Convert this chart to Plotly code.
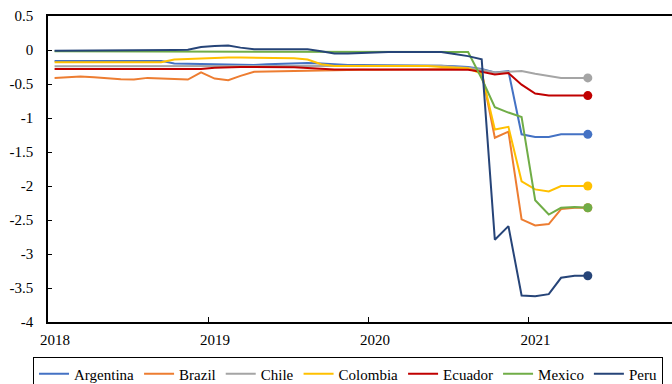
import plotly.graph_objects as go

# Monthly observations, Jan 2018 – May 2021 (plotted mid-month)
months = [f"{2018 + (m // 12)}-{(m % 12) + 1:02d}-16" for m in range(41)]

argentina = [-0.16, -0.16, -0.16, -0.16, -0.16, -0.16, -0.16, -0.15, -0.16, -0.20,
             -0.205, -0.21, -0.215, -0.22, -0.225, -0.22, -0.21, -0.20, -0.19, -0.19,
             -0.20, -0.215, -0.22, -0.22, -0.22, -0.22, -0.22, -0.22, -0.22, -0.23,
             -0.24, -0.25, -0.28, -0.33, -0.31, -1.24, -1.28, -1.28, -1.24, -1.24, -1.24]
brazil = [-0.41, -0.40, -0.39, -0.40, -0.42, -0.43, -0.435, -0.41, -0.42, -0.43,
          -0.435, -0.33, -0.42, -0.445, -0.38, -0.32, -0.315, -0.31, -0.305, -0.30,
          -0.295, -0.29, -0.29, -0.29, -0.29, -0.29, -0.29, -0.29, -0.29, -0.29,
          -0.28, -0.275, -0.32, -1.29, -1.20, -2.49, -2.58, -2.56, -2.34, -2.32, -2.32]
chile = [-0.24, -0.24, -0.24, -0.24, -0.24, -0.24, -0.24, -0.24, -0.24, -0.24,
         -0.24, -0.24, -0.24, -0.24, -0.24, -0.24, -0.24, -0.24, -0.24, -0.24,
         -0.23, -0.23, -0.23, -0.23, -0.23, -0.23, -0.23, -0.23, -0.23, -0.23,
         -0.25, -0.26, -0.29, -0.33, -0.32, -0.31, -0.35, -0.38, -0.41, -0.41, -0.41]
colombia = [-0.18, -0.18, -0.18, -0.18, -0.18, -0.18, -0.18, -0.19, -0.18, -0.14,
            -0.13, -0.12, -0.11, -0.11, -0.11, -0.11, -0.11, -0.11, -0.12, -0.14,
            -0.21, -0.235, -0.24, -0.235, -0.235, -0.235, -0.235, -0.235, -0.235, -0.25,
            -0.26, -0.27, -0.35, -1.17, -1.13, -1.93, -2.05, -2.08, -2.00, -2.00, -2.00]
ecuador = [-0.28, -0.28, -0.28, -0.28, -0.28, -0.28, -0.28, -0.28, -0.28, -0.28,
           -0.28, -0.28, -0.26, -0.25, -0.25, -0.25, -0.25, -0.255, -0.255, -0.265,
           -0.28, -0.285, -0.285, -0.285, -0.285, -0.285, -0.285, -0.285, -0.285, -0.285,
           -0.285, -0.29, -0.32, -0.36, -0.34, -0.51, -0.64, -0.67, -0.67, -0.67, -0.67]
mexico = [-0.02, -0.02, -0.02, -0.02, -0.02, -0.02, -0.02, -0.02, -0.02, -0.02,
          -0.02, -0.02, -0.02, -0.02, -0.02, -0.02, -0.02, -0.02, -0.02, -0.02,
          -0.02, -0.02, -0.02, -0.02, -0.02, -0.02, -0.02, -0.02, -0.02, -0.025,
          -0.03, -0.03, -0.42, -0.84, -0.92, -0.985, -2.21, -2.42, -2.32, -2.31, -2.32]
peru = [-0.01, -0.01, -0.01, 0.0, 0.0, 0.0, 0.0, 0.0, 0.0, 0.0,
        0.005, 0.045, 0.06, 0.065, 0.035, 0.01, 0.01, 0.01, 0.01, 0.01,
        -0.02, -0.05, -0.05, -0.04, -0.04, -0.03, -0.03, -0.03, -0.03, -0.03,
        -0.06, -0.09, -0.137, -2.79, -2.59, -3.61, -3.62, -3.59, -3.35, -3.32, -3.32]

names = ["Argentina", "Brazil", "Chile", "Colombia", "Ecuador", "Mexico", "Peru"]
colors = ["#4472C4", "#ED7D31", "#A5A5A5", "#FFC000", "#C00000", "#70AD47", "#264478"]
series = [argentina, brazil, chile, colombia, ecuador, mexico, peru]

y_tickvals = [0.5, 0, -0.5, -1, -1.5, -2, -2.5, -3, -3.5, -4]
y_ticktext = ["0.5", "0", "-0.5", "-1", "-1.5", "-2", "-2.5", "-3", "-3.5", "-4"]
x_tickvals = ["2018-01-01", "2019-01-01", "2020-01-01", "2021-01-01"]
x_ticktext = ["2018", "2019", "2020", "2021"]

FONT = "Liberation Serif, serif"

fig = go.Figure()
for name, col, vals in zip(names, colors, series):
    fig.add_trace(go.Scatter(x=months, y=vals, mode="lines", name=name,
                             line=dict(color=col, width=2)))
for name, col, vals in zip(names, colors, series):
    fig.add_trace(go.Scatter(x=[months[-1]], y=[vals[-1]], mode="markers",
                             marker=dict(color=col, size=9), showlegend=False,
                             hoverinfo="skip"))

fig.update_layout(
    width=672, height=384,
    margin=dict(l=48, r=0, t=16, b=62, autoexpand=False),
    paper_bgcolor="white", plot_bgcolor="white",
    font=dict(family=FONT, size=15, color="black"),
    showlegend=True,
    legend=dict(orientation="h", x=-0.024, xanchor="left", y=-0.113, yanchor="top",
                bordercolor="black", borderwidth=1, bgcolor="white",
                font=dict(family=FONT, size=15, color="black"),
                itemwidth=30, traceorder="normal"),
)
fig.update_xaxes(
    type="date", range=["2018-01-01", "2021-11-24"],
    tickvals=x_tickvals, ticktext=x_ticktext,
    showline=True, linecolor="black", linewidth=1.5, mirror=True,
    ticks="inside", ticklen=5, tickcolor="black",
    showgrid=False, zeroline=False, ticklabelshift=7, ticklabelstandoff=3,
)
fig.update_yaxes(
    range=[-4, 0.5], tickvals=y_tickvals, ticktext=y_ticktext,
    showline=True, linecolor="black", linewidth=1.5,
    ticks="inside", ticklen=4, tickcolor="black",
    showgrid=False, zeroline=False, ticklabelstandoff=10,
)

fig.write_html("out.html", config={"displayModeBar": False},
               post_script="document.body.style.margin='0';document.body.style.overflow='hidden';")
